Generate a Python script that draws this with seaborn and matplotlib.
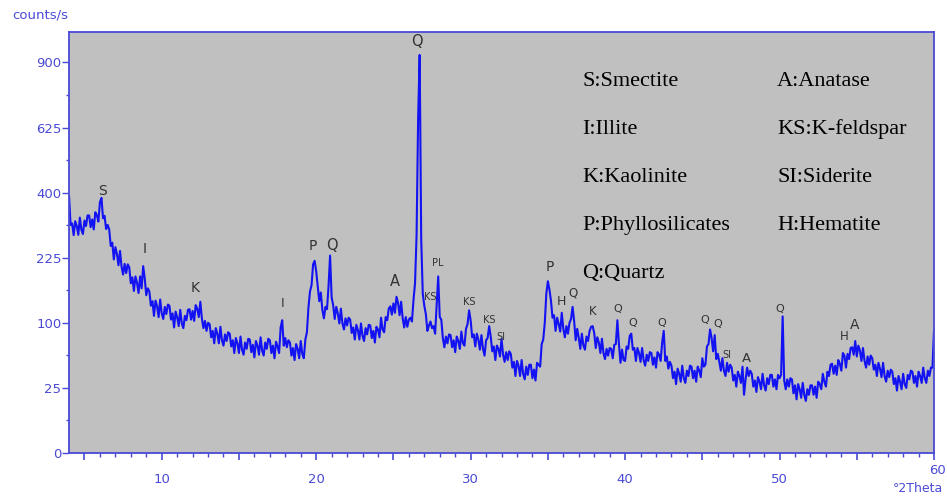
import numpy as np
import matplotlib
matplotlib.use("Agg")
import matplotlib.pyplot as plt
import seaborn as sns
from matplotlib.ticker import FixedLocator, FixedFormatter

# XRD pattern, counts/s at 0.1 deg steps (4.0 .. 60.0)
two_theta = np.round(np.arange(4.0, 60.05, 0.1), 1)

counts_04_14 = [
    390, 307, 311, 280, 317, 304, 281, 327, 294, 283,
    319, 304, 333, 333, 301, 322, 295, 342, 334, 316,
    371, 384, 325, 332, 296, 307, 295, 253, 261, 221,
    250, 234, 208, 241, 205, 188, 211, 191, 210, 203,
    170, 182, 155, 184, 171, 151, 184, 160, 206, 180,
    147, 160, 154, 128, 136, 111, 137, 127, 109, 139,
    115, 106, 126, 114, 130, 128, 105, 115, 93, 118,
    109, 95, 121, 99, 92, 111, 104, 121, 122, 105,
    119, 103, 129, 123, 109, 135, 107, 92, 103, 88,
    100, 98, 79, 88, 71, 92, 84, 71, 94, 75,
]
counts_14_24 = [
    68, 83, 74, 86, 84, 67, 75, 59, 78, 71,
    59, 80, 63, 57, 72, 64, 77, 76, 60, 69,
    54, 74, 68, 57, 79, 62, 56, 72, 64, 77,
    75, 59, 68, 53, 73, 67, 59, 93, 104, 68,
    78, 66, 75, 72, 56, 65, 51, 70, 64, 53,
    74, 58, 53, 76, 86, 125, 154, 166, 210, 218,
    195, 165, 136, 152, 121, 107, 126, 122, 164, 230,
    143, 129, 106, 126, 115, 99, 123, 99, 90, 107,
    96, 108, 105, 85, 93, 76, 97, 89, 76, 99,
    81, 74, 92, 83, 97, 96, 78, 88, 72, 94,
]
counts_24_34 = [
    90, 79, 108, 90, 86, 109, 104, 123, 127, 113,
    132, 116, 144, 133, 112, 135, 107, 93, 109, 94,
    105, 108, 102, 138, 170, 280, 660, 935, 270, 150,
    128, 114, 88, 96, 102, 92, 95, 84, 128, 184,
    109, 105, 78, 66, 80, 71, 83, 82, 66, 75,
    60, 80, 74, 64, 87, 71, 68, 91, 98, 120,
    104, 79, 83, 67, 84, 76, 63, 82, 64, 56,
    75, 78, 95, 80, 61, 67, 51, 68, 64, 55,
    77, 57, 49, 60, 51, 61, 58, 43, 49, 35,
    50, 45, 35, 51, 37, 32, 44, 36, 46, 46,
]
counts_34_44 = [
    33, 41, 31, 48, 46, 44, 70, 76, 100, 150,
    174, 158, 137, 108, 112, 88, 108, 98, 87, 116,
    91, 79, 95, 84, 100, 106, 126, 103, 75, 91,
    78, 64, 84, 68, 63, 80, 74, 88, 94, 95,
    85, 65, 79, 72, 59, 77, 59, 52, 64, 56,
    65, 64, 53, 69, 70, 104, 70, 48, 63, 51,
    50, 67, 64, 81, 84, 63, 65, 50, 65, 59,
    49, 65, 51, 45, 57, 50, 60, 59, 46, 54,
    43, 60, 57, 50, 72, 88, 50, 55, 42, 49,
    45, 33, 39, 28, 42, 37, 30, 45, 33, 29,
]
counts_44_54 = [
    40, 35, 45, 44, 33, 40, 30, 44, 40, 34,
    53, 44, 46, 67, 70, 90, 78, 61, 82, 52,
    58, 49, 40, 53, 40, 35, 48, 39, 46, 43,
    31, 36, 26, 39, 35, 29, 44, 20, 32, 43,
    35, 40, 37, 26, 31, 22, 34, 30, 24, 37,
    27, 23, 33, 28, 36, 36, 26, 32, 24, 36,
    33, 36, 110, 31, 24, 32, 26, 33, 32, 21,
    27, 17, 28, 24, 18, 29, 20, 16, 24, 20,
    27, 27, 20, 26, 18, 30, 28, 24, 37, 30,
    26, 39, 35, 46, 47, 37, 45, 36, 51, 47,
]
counts_54_60 = [
    40, 59, 56, 43, 58, 52, 65, 66, 57, 74,
    55, 68, 62, 50, 65, 50, 43, 55, 46, 56,
    53, 41, 46, 35, 48, 42, 34, 48, 35, 30,
    40, 34, 41, 39, 28, 33, 23, 35, 30, 24,
    37, 28, 25, 36, 32, 40, 39, 29, 35, 26,
    39, 35, 29, 43, 33, 29, 40, 35, 43, 43,
    89,
]
counts = np.array(counts_04_14 + counts_14_24 + counts_24_34
                  + counts_34_44 + counts_44_54 + counts_54_60, dtype=float)

# peak labels: (text, 2theta, counts/s, fontsize)
peak_labels = [
    ("S", 6.14, 406, 10), ("I", 8.88, 245, 10), ("K", 12.15, 160, 10),
    ("I", 17.83, 132, 9), ("P", 19.75, 253, 10), ("Q", 21.04, 253, 10.5),
    ("A", 25.1, 173, 10.5), ("Q", 26.55, 1000, 10.5), ("KS", 27.37, 144, 7),
    ("PL", 27.86, 212, 7), ("KS", 29.9, 135, 7), ("KS", 31.2, 105, 7),
    ("SI", 31.96, 80, 7), ("P", 35.1, 205, 10), ("H", 35.9, 135, 9),
    ("Q", 36.6, 151, 8.5), ("K", 37.9, 118, 8.5), ("Q", 39.55, 122, 8),
    ("Q", 40.52, 99, 8), ("Q", 42.4, 99, 8), ("Q", 45.17, 104, 8),
    ("Q", 45.97, 98, 8), ("SI", 46.62, 56.5, 7), ("A", 47.85, 52.7, 9.5),
    ("Q", 50.02, 123, 8), ("H", 54.2, 80, 8.5), ("A", 54.83, 96.5, 10),
]

legend_left = ["S:Smectite", "I:Illite", "K:Kaolinite", "P:Phyllosilicates", "Q:Quartz"]
legend_right = ["A:Anatase", "KS:K-feldspar", "SI:Siderite", "H:Hematite"]

y_ticks = [0, 25, 100, 225, 400, 625, 900]
x_labels = {10: "10", 20: "20", 30: "30", 40: "40", 50: "50"}

AXIS_BLUE = "#4a4ad6"
LINE_BLUE = "#1212f2"

sns.set_style("ticks")
plt.rcParams["font.family"] = ["DejaVu Sans"]

fig = plt.figure(figsize=(9.47, 4.99), dpi=100)
ax = fig.add_axes([0.0729, 0.0922, 0.9134, 0.8437])
ax.set_facecolor("#c0c0c0")

sns.lineplot(x=two_theta, y=counts, ax=ax, color=LINE_BLUE, linewidth=1.5,
             estimator=None)

ax.set_yscale("function", functions=(lambda v: np.sqrt(np.clip(v, 0, None)),
                                     lambda v: np.square(v)))
ax.set_xlim(4, 60)
ax.set_ylim(0, 1046)

ax.yaxis.set_major_locator(FixedLocator(y_ticks))
ax.yaxis.set_major_formatter(FixedFormatter([str(t) for t in y_ticks]))
ax.yaxis.set_minor_locator(FixedLocator([((a + b) / 2) ** 2 for a, b in
                                         zip(np.sqrt(y_ticks[:-1]), np.sqrt(y_ticks[1:]))]))
x_major = list(range(5, 61, 5))
ax.xaxis.set_major_locator(FixedLocator(x_major))
ax.xaxis.set_major_formatter(FixedFormatter([x_labels.get(t, "") for t in x_major]))
ax.xaxis.set_minor_locator(FixedLocator([t for t in range(5, 60) if t % 5]))

ax.tick_params(axis="y", which="major", length=5, width=1, pad=0.5,
               color=AXIS_BLUE, labelcolor=AXIS_BLUE, labelsize=9.5)
ax.tick_params(axis="y", which="minor", length=2.5, width=1, color=AXIS_BLUE)
ax.tick_params(axis="x", which="major", length=5, width=1.2, pad=9.5,
               color=AXIS_BLUE, labelcolor=AXIS_BLUE, labelsize=9.5)
ax.tick_params(axis="x", which="minor", length=3, width=1, color=AXIS_BLUE)
for side in ["left", "bottom", "top", "right"]:
    ax.spines[side].set_color(AXIS_BLUE)
    ax.spines[side].set_linewidth(1.3)
ax.set_xlabel("")
ax.set_ylabel("")

for text, xv, yv, size in peak_labels:
    ax.text(xv, yv, text, ha="center", va="center", fontsize=size, color="#333333")

for i, name in enumerate(legend_left):
    fig.text(582 / 947, 1 - (86 + 48 * i) / 499, name, family="Liberation Serif",
             fontsize=16, color="black", ha="left", va="baseline")
for i, name in enumerate(legend_right):
    fig.text(777 / 947, 1 - (86 + 48 * i) / 499, name, family="Liberation Serif",
             fontsize=16, color="black", ha="left", va="baseline")

fig.text(12 / 947, 1 - 15 / 499, "counts/s", ha="left", va="center",
         fontsize=9.5, color=AXIS_BLUE)
fig.text(937 / 947, 1 - 470 / 499, "60", ha="center", va="center",
         fontsize=9.5, color=AXIS_BLUE)
fig.text(918 / 947, 1 - 489 / 499, "°2Theta", ha="center", va="center",
         fontsize=9, color=AXIS_BLUE)

fig.savefig("out.png", dpi=100, facecolor="white")
